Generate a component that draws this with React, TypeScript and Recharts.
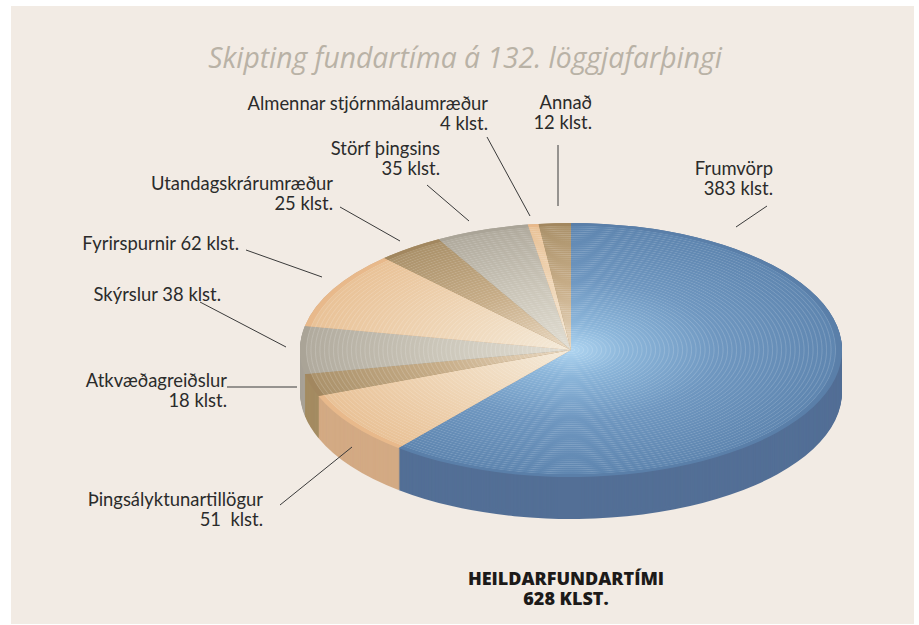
import React from "react";
import { PieChart, Pie, Cell } from "recharts";

const categories = [
  "Frumvörp",
  "Þingsályktunartillögur",
  "Atkvæðagreiðslur",
  "Skýrslur",
  "Fyrirspurnir",
  "Utandagskrárumræður",
  "Störf þingsins",
  "Almennar stjórnmálaumræður",
  "Annað",
];
const hours = [383, 51, 18, 38, 62, 25, 35, 4, 12];
const sliceTones = ["blue", "peach", "brown", "grey", "peach", "brown", "grey", "peach", "brown"];

// the picture is a flat pie squashed to an ellipse, plus a stack of copies for the side wall
const SQUASH = 127 / 271;
const RADIUS = 271;
const CX = 571;
const CY = 350 / SQUASH;
const WALL = 42;
const wallOffsets = Array.from({ length: WALL + 1 }, (_, i) => WALL - i);

const sideColors: Record<string, string> = {
  blue: "#536f96",
  peach: "#d3aa84",
  brown: "#a48c62",
  grey: "#a8a297",
};

const topStops: Record<string, [number, string][]> = {
  blue: [[0, "#aed4f0"], [0.2, "#8cb6da"], [0.55, "#6f97c0"], [0.975, "#5f86b0"], [0.98, "#5a7fa9"], [1, "#5a7fa9"]],
  peach: [[0, "#f4ead9"], [0.5, "#efd6b7"], [0.975, "#e9c297"], [0.98, "#e8b98b"], [1, "#e8b98b"]],
  grey: [[0, "#e2ded3"], [0.5, "#cbc6b9"], [0.975, "#b1ab9e"], [0.98, "#aaa497"], [1, "#aaa497"]],
  brown: [[0, "#ead9c2"], [0.5, "#c7ad88"], [0.975, "#ab926b"], [0.98, "#a2875f"], [1, "#a2875f"]],
};

const data = categories.map((name, i) => ({ name, value: hours[i] }));

const leaders = [
  [487, 137, 530, 216],
  [558, 145, 558, 206],
  [767, 206, 736, 227],
  [427, 185, 469, 221],
  [340, 207, 400, 241],
  [246, 250, 322, 277],
  [200, 302, 286, 347],
  [227, 387, 297, 387],
  [280, 505, 352, 447],
];

const labels: { lines: string[]; right: number; top: number }[] = [
  { lines: ["Almennar stjórnmálaumræður", "4 klst."], right: 488, top: 93 },
  { lines: ["Annað", "12 klst."], right: 592, top: 92 },
  { lines: ["Frumvörp", "383 klst."], right: 773, top: 158 },
  { lines: ["Störf þingsins", "35 klst."], right: 440, top: 138 },
  { lines: ["Utandagskrárumræður", "25 klst."], right: 333, top: 173 },
  { lines: ["Fyrirspurnir 62 klst."], right: 239, top: 233 },
  { lines: ["Skýrslur 38 klst."], right: 221, top: 284 },
  { lines: ["Atkvæðagreiðslur", "18 klst."], right: 227, top: 370 },
  { lines: ["Þingsályktunartillögur", "51  klst."], right: 263, top: 489 },
];

const App: React.FC = () => {
  return (
    <div style={{ position: "absolute", left: 0, top: 0, width: 919, height: 625, overflow: "hidden", background: "#fff" }}>
      <div style={{ position: "absolute", left: 11, top: 6, width: 903, height: 618, background: "#f2ebe4" }} />

      <div style={{ position: "absolute", left: 0, top: 0, transform: `scaleY(${SQUASH})`, transformOrigin: "0 0" }}>
        <PieChart width={919} height={1200} margin={{ top: 0, right: 0, bottom: 0, left: 0 }}>
          <defs>
            {Object.keys(topStops).map((tone) => (
              <radialGradient key={tone} id={`top-${tone}`} gradientUnits="userSpaceOnUse" cx={CX} cy={CY} r={RADIUS}>
                {topStops[tone].map(([offset, color]) => (
                  <stop key={offset} offset={offset} stopColor={color} />
                ))}
              </radialGradient>
            ))}
            <radialGradient id="rings" gradientUnits="userSpaceOnUse" cx={CX} cy={CY} r={4.5} spreadMethod="repeat">
              <stop offset={0} stopColor="#fff" stopOpacity={0} />
              <stop offset={0.55} stopColor="#fff" stopOpacity={0} />
              <stop offset={0.8} stopColor="#fff" stopOpacity={0.16} />
              <stop offset={1} stopColor="#fff" stopOpacity={0} />
            </radialGradient>
          </defs>
          {wallOffsets.map((offset) => (
            <Pie
              key={offset}
              data={data}
              dataKey="value"
              cx={CX}
              cy={CY + offset / SQUASH}
              outerRadius={RADIUS}
              startAngle={90}
              endAngle={-270}
              stroke="none"
              isAnimationActive={false}
            >
              {data.map((entry, index) => (
                <Cell key={`wall-${index}`} fill={sideColors[sliceTones[index]]} stroke="none" />
              ))}
            </Pie>
          ))}
          <Pie
            data={data}
            dataKey="value"
            cx={CX}
            cy={CY}
            outerRadius={RADIUS}
            startAngle={90}
            endAngle={-270}
            stroke="none"
            isAnimationActive={false}
          >
            {data.map((entry, index) => (
              <Cell key={`top-${index}`} fill={`url(#top-${sliceTones[index]})`} stroke="none" />
            ))}
          </Pie>
          <Pie
            data={data}
            dataKey="value"
            cx={CX}
            cy={CY}
            outerRadius={RADIUS - 6}
            startAngle={90}
            endAngle={-270}
            stroke="none"
            isAnimationActive={false}
          >
            {data.map((entry, index) => (
              <Cell key={`ring-${index}`} fill="url(#rings)" stroke="none" />
            ))}
          </Pie>
        </PieChart>
      </div>

      <svg width={919} height={625} style={{ position: "absolute", left: 0, top: 0 }}>
        {leaders.map(([x1, y1, x2, y2], i) => (
          <line key={i} x1={x1} y1={y1} x2={x2} y2={y2} stroke="#3a3a3a" strokeWidth={1} />
        ))}
      </svg>

      <div
        style={{
          position: "absolute",
          left: 0,
          width: 930,
          top: 39,
          textAlign: "center",
          fontFamily: "'Open Sans', sans-serif",
          fontStyle: "italic",
          fontSize: 28.3,
          lineHeight: "36px",
          color: "#b9b2a6",
        }}
      >
        Skipting fundartíma á 132. löggjafarþingi
      </div>

      {labels.map((label) => (
        <div
          key={label.lines[0]}
          style={{
            position: "absolute",
            right: 919 - label.right,
            top: label.top,
            textAlign: "right",
            whiteSpace: "pre",
            fontFamily: "Lato, sans-serif",
            fontSize: 18.4,
            lineHeight: "20px",
            color: "#2b2b2b",
          }}
        >
          {label.lines.join("\n")}
        </div>
      ))}

      <div
        style={{
          position: "absolute",
          left: 366,
          width: 400,
          top: 568,
          textAlign: "center",
          whiteSpace: "pre",
          fontFamily: "'Open Sans', sans-serif",
          fontWeight: 800,
          fontSize: 18,
          lineHeight: "20px",
          color: "#1c1a19",
        }}
      >
        {"HEILDARFUNDARTÍMI\n628 KLST."}
      </div>
    </div>
  );
};

export default App;
